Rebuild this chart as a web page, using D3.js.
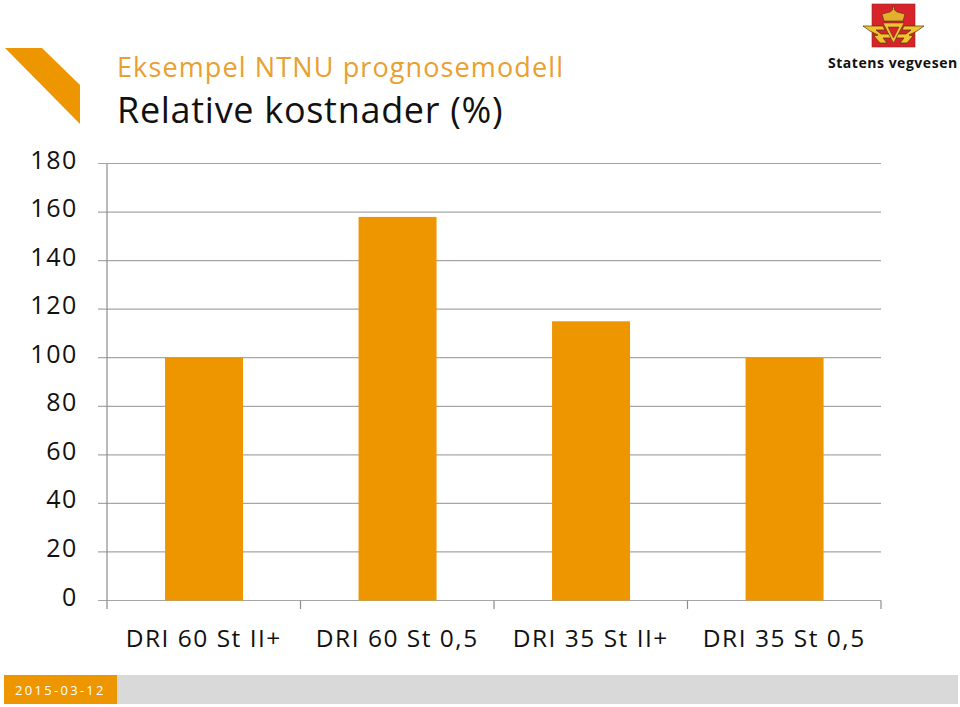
<!DOCTYPE html>
<html><head><meta charset="utf-8">
<script src="https://cdn.jsdelivr.net/npm/d3@7"></script>
<style>html,body{margin:0;background:#fff}svg{display:block}text{font-family:"Open Sans",sans-serif}</style>
</head><body><svg id="c" width="960" height="707"></svg>
<script>
const categories=["DRI 60 St II+","DRI 60 St 0,5","DRI 35 St II+","DRI 35 St 0,5"];
const values=[100,158,115,100];
const yTicks=[0,20,40,60,80,100,120,140,160,180];
const titleTop="Eksempel NTNU prognosemodell";
const titleMain="Relative kostnader (%)";
const dateLabel="2015-03-12";
const logoLabel="Statens vegvesen";
const orange="#ee9600",grid="#a6a6a6",axisCol="#8c8c8c";
const svg=d3.select("#c");
const x=d3.scaleBand().domain(categories).range([107,881]);
const y=d3.scaleLinear().domain([0,180]).range([600.5,163.5]);
svg.append("path").attr("d","M5,48 L42,48 L80,85 L80,124 Z").attr("fill",orange);
svg.append("text").attr("x",117).attr("y",77).attr("font-size",27).attr("letter-spacing",1.12).attr("fill","#e9a02f").text(titleTop);
svg.append("text").attr("x",117).attr("y",123).attr("font-size",36).attr("letter-spacing",.7).attr("fill","#111").text(titleMain);
svg.append("g").selectAll("line").data(yTicks).join("line")
 .attr("x1",98).attr("x2",881).attr("y1",d=>y(d)).attr("y2",d=>y(d))
 .attr("stroke",grid).attr("stroke-width",1.2);
const bw=78;
svg.append("g").selectAll("rect").data(values).join("rect")
 .attr("x",(d,i)=>x(categories[i])+x.bandwidth()/2-bw/2+.3).attr("width",bw)
 .attr("y",d=>y(d)).attr("height",d=>y(0)-y(d)).attr("fill",orange);
svg.append("line").attr("x1",107).attr("x2",107).attr("y1",y(180)).attr("y2",609).attr("stroke",axisCol).attr("stroke-width",1.2);
svg.append("g").selectAll("line").data(categories).join("line")
 .attr("x1",d=>x(d)+x.bandwidth()).attr("x2",d=>x(d)+x.bandwidth())
 .attr("y1",y(0)).attr("y2",609).attr("stroke",axisCol).attr("stroke-width",1.2);
svg.append("g").selectAll("text").data(yTicks).join("text")
 .attr("x",78).attr("y",d=>y(d)+5).attr("text-anchor","end").attr("font-size",25).attr("letter-spacing",1.6).attr("fill","#111").text(d=>d);
svg.append("g").selectAll("text").data(categories).join("text")
 .attr("x",d=>x(d)+x.bandwidth()/2).attr("y",647).attr("text-anchor","middle").attr("font-size",24.5).attr("letter-spacing",1.5).attr("fill","#111").text(d=>d);
svg.append("rect").attr("x",117).attr("y",675).attr("width",841).attr("height",29).attr("fill","#d9d9d9");
svg.append("rect").attr("x",4).attr("y",675).attr("width",113).attr("height",29).attr("fill",orange);
svg.append("text").attr("x",15).attr("y",695).attr("font-size",13).attr("letter-spacing",2.3).attr("fill","#fff").text(dateLabel);
const g=svg.append("g");
const gold="#f2c230",dk="#4a3310";
g.append("rect").attr("x",872).attr("y",4).attr("width",43).attr("height",43).attr("fill","#d8232a").attr("stroke","#8a2a20").attr("stroke-width",.6);
g.append("path").attr("d","M863,26 L883,26 L885,30 L876,30 L881,34 L889,34 L891,38 L883,38 L887,43 L880,43 L874,36 L878,35 L870,31 Z").attr("fill",gold).attr("stroke",dk).attr("stroke-width",.7);
g.append("path").attr("d","M924,26 L904,26 L902,30 L911,30 L906,34 L898,34 L896,38 L904,38 L900,43 L907,43 L913,36 L909,35 L917,31 Z").attr("fill",gold).attr("stroke",dk).attr("stroke-width",.7);
g.append("path").attr("d","M883,23 L904,23 L893.5,43 Z M888,27 L893.5,38 L899,27 Z").attr("fill",gold).attr("fill-rule","evenodd").attr("stroke",dk).attr("stroke-width",.5);
g.append("path").attr("d","M882,14 L886,13 L890,12 L892.5,10 L892.5,7 L894.5,7 L894.5,10 L897,12 L901,13 L905,14 L903,21 L884,21 Z").attr("fill","#e5ae2c").attr("stroke",dk).attr("stroke-width",.6);
svg.append("text").attr("x",828).attr("y",68).attr("font-size",14).attr("font-weight","bold").attr("letter-spacing",.53).attr("fill","#111").text(logoLabel);
</script></body></html>
